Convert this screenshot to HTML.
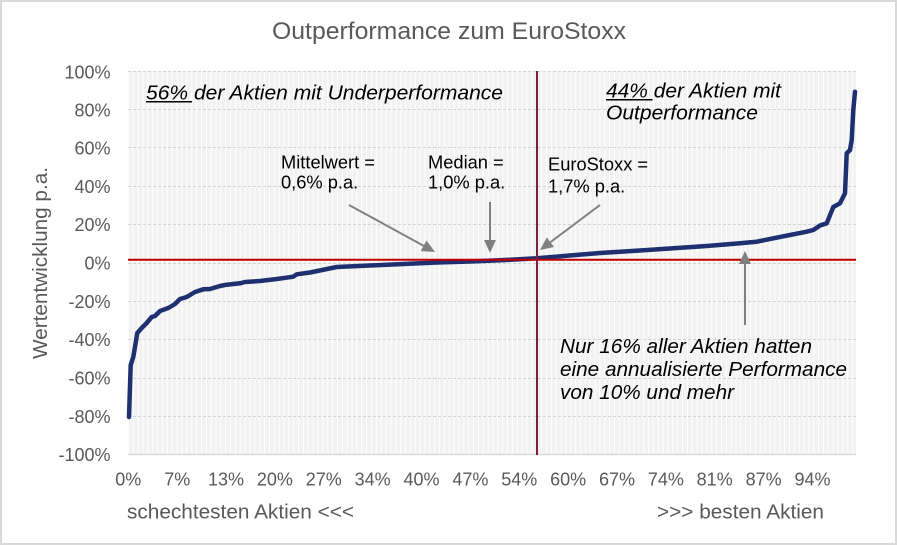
<!DOCTYPE html>
<html>
<head>
<meta charset="utf-8">
<style>
  html,body{margin:0;padding:0;background:#fff;}
  svg{display:block;}
  text{font-family:"Liberation Sans",Arial,sans-serif;}
</style>
</head>
<body>
<svg width="897" height="545" viewBox="0 0 897 545" xmlns="http://www.w3.org/2000/svg">
  <defs>
    <pattern id="vg" patternUnits="userSpaceOnUse" x="128" y="0" width="4.86" height="10">
      <rect x="0" y="0" width="4.86" height="10" fill="#f2f2f2"/>
      <rect x="0" y="0" width="1" height="10" fill="#ffffff"/>
    </pattern>
  </defs>

  <rect x="0" y="0" width="897" height="545" fill="#ffffff"/>
  <rect x="1" y="1" width="895" height="543" fill="none" stroke="#d9d9d9" stroke-width="2"/>

  <text x="272" y="39" font-size="24" fill="#595959" textLength="354" lengthAdjust="spacingAndGlyphs">Outperformance zum EuroStoxx</text>

  <rect x="128" y="71" width="728" height="384" fill="url(#vg)"/>

  <g stroke="#d4d4d4" stroke-width="1" stroke-dasharray="3 2">
    <line x1="128" y1="71.5" x2="856" y2="71.5"/>
    <line x1="128" y1="109.5" x2="856" y2="109.5"/>
    <line x1="128" y1="147.5" x2="856" y2="147.5"/>
    <line x1="128" y1="186.5" x2="856" y2="186.5"/>
    <line x1="128" y1="224.5" x2="856" y2="224.5"/>
    <line x1="128" y1="263.5" x2="856" y2="263.5"/>
    <line x1="128" y1="301.5" x2="856" y2="301.5"/>
    <line x1="128" y1="339.5" x2="856" y2="339.5"/>
    <line x1="128" y1="378.5" x2="856" y2="378.5"/>
    <line x1="128" y1="416.5" x2="856" y2="416.5"/>
  </g>
  <line x1="128" y1="454.5" x2="856" y2="454.5" stroke="#d9d9d9" stroke-width="1.5"/>

  <path d="M129,417 L130.7,365 L133.3,357 L137.3,333 L141.7,328 L146.7,323 L151.7,317 L155,316 L160,311 L168.3,308 L175,304 L180,299 L186.7,297 L195,292 L203.3,289.3 L210,289 L220,286 L226.7,284.7 L240,283.3 L245,282 L260,281 L276.7,279 L293.3,276.7 L296.7,274.3 L310,272.5 L336.7,267 L370,265.5 L403.3,264 L436.7,262.5 L470,261.5 L500,260.3 L537,258.3 L566.7,255.8 L600,253 L640,250.5 L673.3,248.3 L706.7,246 L740,243.3 L756.7,241.7 L773.3,238.3 L790,235 L806.7,231.7 L813.3,230 L820,225.5 L826.7,223.3 L833.3,207 L840,203.3 L845,193.3 L846.7,153.3 L850,150 L851.7,140 L853.3,110 L855,91.7"
        fill="none" stroke="#1f3070" stroke-width="4.5" stroke-linejoin="round" stroke-linecap="round"/>

  <line x1="128" y1="259.7" x2="856" y2="259.7" stroke="#c00000" stroke-width="2"/>
  <line x1="537" y1="71" x2="537" y2="455" stroke="#7f1f3f" stroke-width="2"/>

  <g stroke="#808080" stroke-width="2" fill="none">
    <line x1="349" y1="205" x2="424" y2="246"/>
    <line x1="490" y1="202" x2="490" y2="241"/>
    <line x1="600" y1="205" x2="550" y2="242.5"/>
    <line x1="745" y1="325" x2="745" y2="263"/>
  </g>
  <g fill="#808080">
    <polygon points="435,252 420.7,251.1 426.5,240.5"/>
    <polygon points="490,253 484,240 496,240"/>
    <polygon points="540,250 546.8,237.4 554,247"/>
    <polygon points="745,251 739,264 751,264"/>
  </g>

  <g font-size="18" fill="#595959" text-anchor="end">
    <text x="110.5" y="78.5">100%</text>
    <text x="110.5" y="116.5">80%</text>
    <text x="110.5" y="154.5">60%</text>
    <text x="110.5" y="193">40%</text>
    <text x="110.5" y="231">20%</text>
    <text x="110.5" y="269.5">0%</text>
    <text x="110.5" y="308">-20%</text>
    <text x="110.5" y="346">-40%</text>
    <text x="110.5" y="384.5">-60%</text>
    <text x="110.5" y="423">-80%</text>
    <text x="110.5" y="461">-100%</text>
  </g>

  <text transform="translate(47,263) rotate(-90)" font-size="20.5" fill="#595959" text-anchor="middle" textLength="192" lengthAdjust="spacingAndGlyphs">Wertentwicklung p.a.</text>

  <g font-size="18" fill="#595959" text-anchor="middle">
    <text x="128.3" y="485.5">0%</text>
    <text x="177.2" y="485.5">7%</text>
    <text x="226.0" y="485.5">13%</text>
    <text x="274.9" y="485.5">20%</text>
    <text x="323.8" y="485.5">27%</text>
    <text x="372.6" y="485.5">34%</text>
    <text x="421.5" y="485.5">40%</text>
    <text x="470.4" y="485.5">47%</text>
    <text x="519.3" y="485.5">54%</text>
    <text x="568.1" y="485.5">60%</text>
    <text x="617.0" y="485.5">67%</text>
    <text x="665.9" y="485.5">74%</text>
    <text x="714.7" y="485.5">81%</text>
    <text x="763.6" y="485.5">87%</text>
    <text x="812.5" y="485.5">94%</text>
  </g>

  <text x="127" y="518.5" font-size="20.5" fill="#595959" textLength="227" lengthAdjust="spacingAndGlyphs">schechtesten Aktien &lt;&lt;&lt;</text>
  <text x="657" y="518.5" font-size="20.5" fill="#595959" textLength="167" lengthAdjust="spacingAndGlyphs">&gt;&gt;&gt; besten Aktien</text>

  <g font-size="20.5" font-style="italic" fill="#000">
    <text x="146" y="99.5" textLength="357" lengthAdjust="spacingAndGlyphs">56% der Aktien mit Underperformance</text>
    <text x="606" y="97.5" textLength="175" lengthAdjust="spacingAndGlyphs">44% der Aktien mit</text>
    <text x="606" y="119.5" textLength="152" lengthAdjust="spacingAndGlyphs">Outperformance</text>
    <text x="560" y="353" textLength="252" lengthAdjust="spacingAndGlyphs">Nur 16% aller Aktien hatten</text>
    <text x="560" y="376" textLength="287" lengthAdjust="spacingAndGlyphs">eine annualisierte Performance</text>
    <text x="560" y="399" textLength="174" lengthAdjust="spacingAndGlyphs">von 10% und mehr</text>
  </g>
  <line x1="146" y1="101.8" x2="192" y2="101.8" stroke="#000" stroke-width="1.5"/>
  <line x1="606" y1="99.8" x2="652.5" y2="99.8" stroke="#000" stroke-width="1.5"/>

  <g font-size="18.3" fill="#000">
    <text x="281" y="168.5">Mittelwert =</text>
    <text x="281" y="188.5">0,6% p.a.</text>
    <text x="428" y="168.5">Median =</text>
    <text x="428" y="188.5">1,0% p.a.</text>
    <text x="548" y="170.7">EuroStoxx =</text>
    <text x="548" y="192.3">1,7% p.a.</text>
  </g>
</svg>
</body>
</html>
